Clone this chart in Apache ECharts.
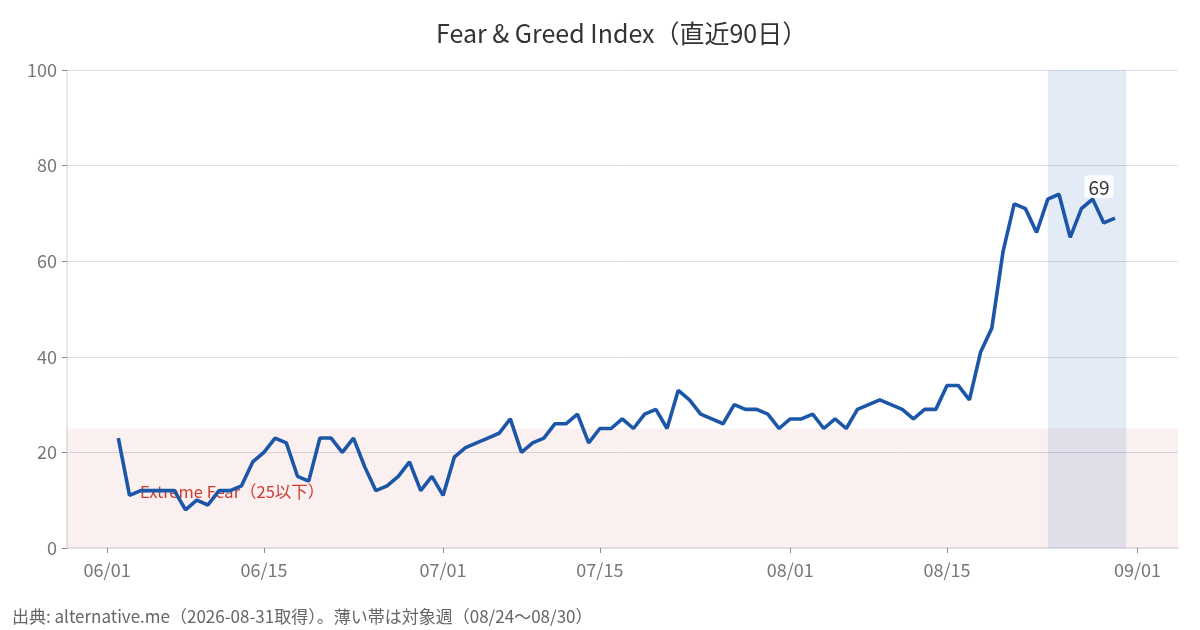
<!DOCTYPE html>
<html>
<head>
<meta charset="utf-8">
<script src="https://cdn.jsdelivr.net/npm/echarts@6/dist/echarts.min.js"></script>
<style>
    html, body { margin: 0; padding: 0; background: #fff; }
    #main { width: 1200px; height: 630px; }
</style>
</head>
<body>
<div id="main"></div>
<script>
// 直近90日の指数 (06/02 〜 08/30)
var startDate = [2026, 6, 2];
var fgValues = [
    // 06/02 - 06/30
    23, 11, 12, 12, 12, 12, 8, 10, 9, 12, 12, 13, 18, 20, 23, 22, 15, 14, 23, 23, 20, 23, 17, 12, 13, 15, 18, 12, 15,
    // 07/01 - 07/31
    11, 19, 21, 22, 23, 24, 27, 20, 22, 23, 26, 26, 28, 22, 25, 25, 27, 25, 28, 29, 25, 33, 31, 28, 27, 26, 30, 29, 29, 28, 25,
    // 08/01 - 08/30
    27, 27, 28, 25, 27, 25, 29, 30, 31, 30, 29, 27, 29, 29, 34, 34, 31, 41, 46, 62, 72, 71, 66, 73, 74, 65, 71, 73, 68, 69
];
var xTickDates = ['2026-06-01', '2026-06-15', '2026-07-01', '2026-07-15', '2026-08-01', '2026-08-15', '2026-09-01'];
var yTicks = [0, 20, 40, 60, 80, 100];
var weekBand = ['2026-08-24', '2026-08-31'];
var fearLimit = 25;

var titleText = 'Fear & Greed Index（直近90日）';
var fearText = 'Extreme Fear（25以下）';
var footText = '出典: alternative.me（2026-08-31取得）。薄い帯は対象週（08/24〜08/30）';

var FONT = '"Noto Sans CJK JP", "Noto Sans", sans-serif';

function localDate(str) {
    var p = str.split('-');
    return new Date(+p[0], +p[1] - 1, +p[2]).getTime();
}
function pad(n) { return n < 10 ? '0' + n : '' + n; }

// 日付とデータの組み立て
var seriesData = [];
for (var i = 0; i < fgValues.length; i++) {
    var d = new Date(startDate[0], startDate[1] - 1, startDate[2] + i);
    seriesData.push([d.getTime(), fgValues[i]]);
}
var lastPoint = seriesData[seriesData.length - 1];
var xTicks = xTickDates.map(localDate);

var xMin = new Date(2026, 4, 28, 10).getTime();
var xMax = new Date(2026, 8, 4, 15).getTime();

var chart = echarts.init(document.getElementById('main'));
chart.setOption({
    backgroundColor: '#fff',
    animation: false,
    title: {
        text: titleText,
        left: 431,
        top: 16,
        textStyle: { fontFamily: FONT, fontSize: 25, fontWeight: 'normal', color: '#333' }
    },
    graphic: [{
        type: 'text',
        left: 12,
        top: 608,
        style: { text: footText, fontFamily: FONT, fontSize: 17, fill: '#666' }
    }],
    grid: { left: 67, right: 22, top: 70, bottom: 82 },
    xAxis: {
        // 日付は値軸で持ち、目盛りは1日と15日に固定
        type: 'value',
        min: xMin,
        max: xMax,
        axisLine: { show: true, onZero: false, lineStyle: { color: '#dcdfe6', width: 1.5 } },
        axisTick: { show: true, length: 5, customValues: xTicks, lineStyle: { color: '#888' } },
        splitLine: { show: false },
        axisLabel: {
            fontFamily: FONT, fontSize: 18, color: '#777', margin: 13,
            customValues: xTicks,
            formatter: function (v) {
                var d = new Date(v);
                return pad(d.getMonth() + 1) + '/' + pad(d.getDate());
            }
        }
    },
    yAxis: {
        type: 'value',
        min: yTicks[0],
        max: yTicks[yTicks.length - 1],
        interval: yTicks[1] - yTicks[0],
        axisLine: { show: true, lineStyle: { color: '#dcdfe6', width: 1.5 } },
        axisTick: { show: true, length: 5, lineStyle: { color: '#888' } },
        splitLine: { lineStyle: { color: '#dddde3' } },
        axisLabel: { fontFamily: FONT, fontSize: 18, color: '#777', margin: 10 }
    },
    series: [{
        type: 'line',
        data: seriesData,
        showSymbol: false,
        symbol: 'none',
        lineStyle: { color: '#1c56a8', width: 3.6 },
        itemStyle: { color: '#1c56a8' },
        z: 5,
        markPoint: {
            silent: true,
            symbol: 'circle',
            symbolSize: 0,
            data: [{ coord: lastPoint, value: lastPoint[1] }],
            label: {
                show: true,
                position: 'top',
                distance: 5,
                offset: [-16, -15],
                formatter: '{c}',
                fontSize: 19,
                fontFamily: FONT,
                color: '#333',
                backgroundColor: 'rgba(255,255,255,0.85)',
                borderRadius: 3,
                padding: [3, 4, 1, 4]
            }
        },
        markArea: {
            silent: true,
            data: [
                [{
                    yAxis: 0,
                    itemStyle: { color: 'rgba(200,70,60,0.08)' },
                    label: {
                        show: true,
                        position: 'insideLeft',
                        offset: [68, 3],
                        formatter: fearText,
                        fontFamily: FONT,
                        fontSize: 16.5,
                        color: '#cc3a2e'
                    }
                }, { yAxis: fearLimit }],
                [{
                    xAxis: localDate(weekBand[0]),
                    itemStyle: { color: 'rgba(60,110,190,0.14)' },
                    label: { show: false }
                }, { xAxis: localDate(weekBand[1]) }]
            ]
        }
    }]
});
</script>
</body>
</html>
